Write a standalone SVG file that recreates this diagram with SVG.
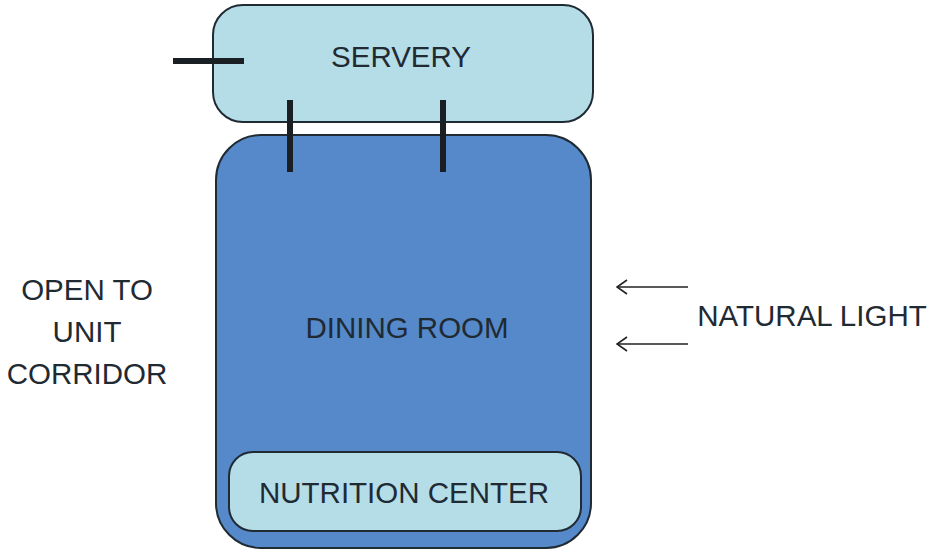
<svg xmlns="http://www.w3.org/2000/svg" width="935" height="552" viewBox="0 0 935 552">
<defs>
<style>
.box{stroke:#1f2a33;stroke-width:2}
.t{font-family:"Liberation Sans",Arial,sans-serif;font-size:29.5px;fill:#1f2a33;text-anchor:middle}
.door{stroke:#1a1f24;stroke-width:6;fill:none}
.arr{stroke:#222;stroke-width:1.6;fill:none}
</style>
<marker id="ah" viewBox="0 0 12 16" refX="11" refY="8" markerWidth="12" markerHeight="16" markerUnits="userSpaceOnUse" orient="auto">
<path d="M1,1 L11,8 L1,15" fill="none" stroke="#222" stroke-width="1.6"/>
</marker>
</defs>
<rect width="935" height="552" fill="#fff"/>
<g id="servery">
<rect class="box" x="213" y="5" width="380" height="117" rx="30" fill="#b5dde8"/>
<text class="t" x="401" y="67">SERVERY</text>
</g>
<g id="dining">
<rect class="box" x="216" y="135" width="375" height="413" rx="45" fill="#5689c9"/>
<text class="t" x="407" y="338">DINING ROOM</text>
</g>
<g id="nutrition">
<rect class="box" x="229" y="452" width="352" height="79" rx="24" fill="#b5dde8"/>
<text class="t" x="404" y="503">NUTRITION CENTER</text>
</g>
<g id="corridor">
<text class="t" x="87" y="300">OPEN TO</text>
<text class="t" x="87" y="342">UNIT</text>
<text class="t" x="87" y="384">CORRIDOR</text>
</g>
<g id="light">
<text class="t" x="812" y="326">NATURAL LIGHT</text>
</g>
<g id="connectors">
<line class="door" x1="173" y1="61" x2="244" y2="61"/>
<line class="door" x1="290" y1="100" x2="290" y2="172"/>
<line class="door" x1="443" y1="100" x2="443" y2="172"/>
<line class="arr" x1="688" y1="287" x2="617" y2="287" marker-end="url(#ah)"/>
<line class="arr" x1="688" y1="344" x2="617" y2="344" marker-end="url(#ah)"/>
</g>
</svg>
